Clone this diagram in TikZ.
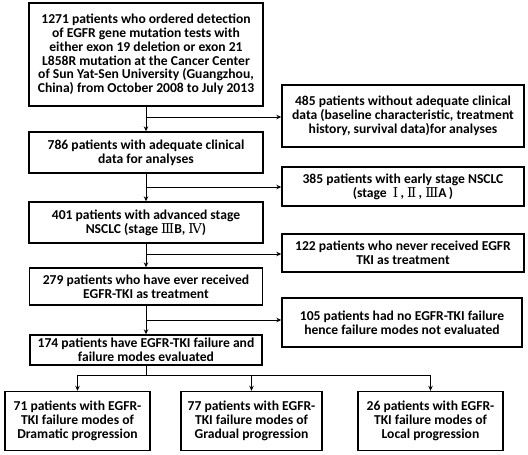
\documentclass[tikz,border=0pt]{standalone}
\usepackage{fontspec}
\setmainfont{Carlito}
\newfontfamily\romanfont{DejaVu Serif}
\usetikzlibrary{arrows.meta}

\begin{document}
\begin{tikzpicture}[x=1pt, y=-1pt,
      box/.style={draw, line width=1.4pt, align=center, inner sep=1pt,
        font=\bfseries\fontsize{13.6}{13.8}\selectfont},
      sidebox/.style={box, minimum width=242pt},
      endbox/.style={box, minimum width=145pt, minimum height=59pt},
      arr/.style={-{Stealth[length=5pt, width=4.5pt]}, line width=0.9pt}]
      \useasboundingbox (0,0) rectangle (528,455);
      % main column
      \node[box, minimum width=234pt, minimum height=103pt] (n1271) at (146,54.5)
        {1271 patients who ordered detection\\of EGFR gene mutation tests with\\either exon 19 deletion or exon 21\\L858R mutation at the Cancer Center\\of Sun Yat-Sen University (Guangzhou,\\China) from October 2008 to July 2013};
      \node[box, minimum width=234pt, minimum height=41pt] (n786) at (146,152.5)
        {786 patients with adequate clinical\\data for analyses};
      \node[box, minimum width=234pt, minimum height=41pt] (n401) at (146,222.5)
        {401 patients with advanced stage\\NSCLC (stage {\romanfont\mdseries Ⅲ}B, {\romanfont\mdseries Ⅳ})};
      \node[box, minimum width=233pt, minimum height=37pt] (n279) at (146,286.5)
        {279 patients who have ever received\\EGFR-TKI as treatment};
      \node[box, minimum width=232pt, minimum height=30pt] (n174) at (146,350)
        {174 patients have EGFR-TKI failure and\\failure modes evaluated};
      % excluded
      \node[sidebox, minimum height=62pt] (n485) at (403,116)
        {485 patients without adequate clinical\\data (baseline characteristic, treatment\\history, survival data)for analyses};
      \node[sidebox, minimum height=39pt] (n385) at (403,186.5)
        {385 patients with early stage NSCLC\\(stage\ \ {\romanfont\mdseries Ⅰ}\,, {\romanfont\mdseries Ⅱ}\,, {\romanfont\mdseries Ⅲ}A\,)};
      \node[sidebox, minimum height=38pt] (n122) at (403,253)
        {122 patients who never received EGFR\\TKI as treatment};
      \node[sidebox, minimum width=240pt, minimum height=49pt] (n105) at (402,322.5)
        {105 patients had no EGFR-TKI failure\\hence failure modes not evaluated};
      % failure modes
      \node[endbox] (nDra) at (77.5,421)
        {71 patients with EGFR-\\TKI failure modes of\\Dramatic progression};
      \node[endbox, minimum width=141pt] (nGra) at (251.5,421)
        {77 patients with EGFR-\\TKI failure modes of\\Gradual progression};
      \node[endbox] (nLoc) at (430.5,421)
        {26 patients with EGFR-\\TKI failure modes of\\Local progression};
      % branch points
      \coordinate (b1) at (146,117);
      \coordinate (b2) at (146,187);
      \coordinate (b3) at (146,254);
      \coordinate (b4) at (146,320);
      \coordinate (b5) at (146,375);
      \draw[arr] (n1271) -- (n786);
      \draw[arr] (n786) -- (n401);
      \draw[arr] (n401) -- (n279);
      \draw[arr] (n279) -- (n174);
      \draw[arr] (b1) -- (b1 -| n485.west);
      \draw[arr] (b2) -- (b2 -| n385.west);
      \draw[arr] (b3) -- (b3 -| n122.west);
      \draw[arr] (b4) -- (b4 -| n105.west);
      \draw[line width=0.9pt] (n174.south) -- (b5);
      \draw[arr] (b5) -| (nDra.north);
      \draw[arr] (b5) -| (nLoc.north);
      \draw[arr] (b5 -| nGra) -- (nGra.north);
    \end{tikzpicture}
\end{document}
